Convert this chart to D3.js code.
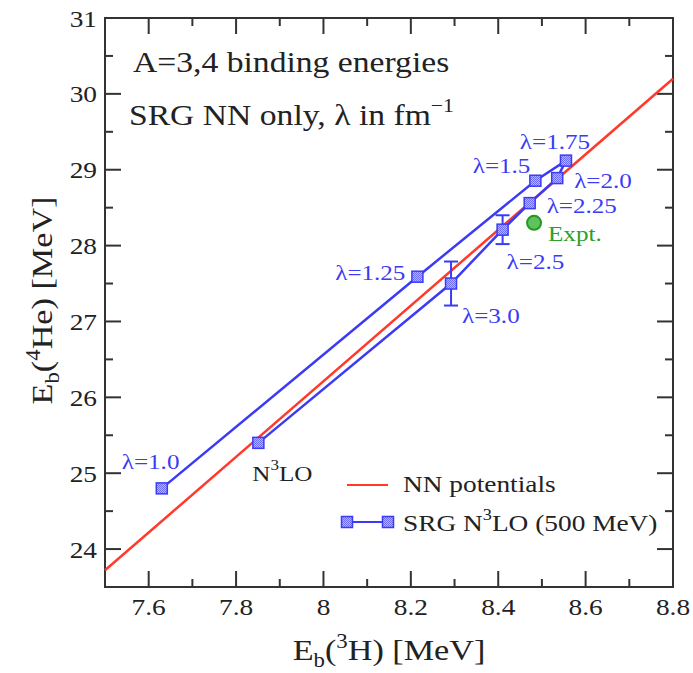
<!DOCTYPE html>
<html>
<head>
<meta charset="utf-8">
<script src="https://cdn.jsdelivr.net/npm/d3@7"></script>
<style>
  body { margin: 0; background: #fff; }
</style>
</head>
<body>
<svg id="chart"></svg>
<script>
// SRG N3LO (500 MeV) evolved potentials, in the order the line joins them
const srgLabels = ["λ=1.0", "λ=1.25", "λ=1.5", "λ=1.75", "λ=2.0", "λ=2.25", "λ=2.5", "λ=3.0", "N3LO"];
const srgH3 = [7.63, 8.215, 8.485, 8.555, 8.535, 8.472, 8.41, 8.292, 7.851];
const srgHe4 = [24.8, 27.59, 28.855, 29.12, 28.89, 28.56, 28.21, 27.5, 25.4];
const srgErr = [0, 0, 0, 0, 0, 0, 0.19, 0.29, 0];

// NN potentials (Tjon line)
const nnH3 = [7.5, 8.8];
const nnHe4 = [23.72, 30.2];

// experiment
const exptH3 = [8.482];
const exptHe4 = [28.3];

const xTicks = [7.6, 7.8, 8, 8.2, 8.4, 8.6, 8.8];
const yTicks = [24, 25, 26, 27, 28, 29, 30, 31];

const width = 693,
  height = 673,
  margin = { top: 18, right: 20, bottom: 86, left: 105 };

const svg = d3.select("#chart").attr("width", width).attr("height", height)
  .attr("font-family", "'Liberation Serif', 'DejaVu Serif', serif");

const x = d3.scaleLinear().domain([7.5, 8.8]).range([margin.left, width - margin.right]);
const y = d3.scaleLinear().domain([23.5, 31]).range([height - margin.bottom, margin.top]);

const blue = "#3b3bf5";
const red = "#ff3a2a";
const ink = "#222";
const sx = 1.14; // the original glyphs are a bit wider than Times

// text helper: stretched horizontally around its anchor point
function txt(parent, px, py, size, fill, anchor, rot) {
  return parent.append("text")
    .attr("transform", `translate(${px},${py})${rot ? " rotate(" + rot + ")" : ""} scale(${sx},1)`)
    .attr("font-size", size).attr("fill", fill)
    .attr("text-anchor", anchor || "start");
}
function sup(t, parts, supSize, shift) {
  parts.forEach((p, i) => {
    const s = t.append("tspan").text(p.text);
    if (p.sub) s.attr("font-size", supSize).attr("dy", shift * 0.6);
    if (p.sup) s.attr("font-size", supSize).attr("dy", -shift);
    if (p.back) s.attr("dy", p.back);
  });
  return t;
}

// checkered marker fill
const pat = svg.append("defs").append("pattern")
  .attr("id", "chk").attr("width", 2).attr("height", 2)
  .attr("patternUnits", "userSpaceOnUse");
pat.append("rect").attr("width", 2).attr("height", 2).attr("fill", "#b4b4ff");
pat.append("rect").attr("width", 1).attr("height", 1).attr("fill", "#6a6af5");
pat.append("rect").attr("x", 1).attr("y", 1).attr("width", 1).attr("height", 1).attr("fill", "#6a6af5");

// axes, ticks inward on all sides
const x0 = x.range()[0], x1 = x.range()[1], y0 = y.range()[0], y1 = y.range()[1];
const minorX = d3.range(7.6, 8.75, 0.1).filter((v) => Math.round(v * 10) % 2 === 1);
const minorY = d3.range(23.5, 31, 0.5).filter((v) => v % 1 !== 0);

const frame = svg.append("g").attr("stroke", "#333").attr("stroke-width", 2);
frame.append("rect").attr("x", x0).attr("y", y1).attr("width", x1 - x0).attr("height", y0 - y1).attr("fill", "none");
xTicks.filter((v) => v < 8.8).forEach((v) => {
  frame.append("line").attr("x1", x(v)).attr("x2", x(v)).attr("y1", y0).attr("y2", y0 - 16);
  frame.append("line").attr("x1", x(v)).attr("x2", x(v)).attr("y1", y1).attr("y2", y1 + 16);
});
minorX.forEach((v) => {
  frame.append("line").attr("x1", x(v)).attr("x2", x(v)).attr("y1", y0).attr("y2", y0 - 8);
  frame.append("line").attr("x1", x(v)).attr("x2", x(v)).attr("y1", y1).attr("y2", y1 + 8);
});
yTicks.filter((v) => v < 31).forEach((v) => {
  frame.append("line").attr("x1", x0).attr("x2", x0 + 16).attr("y1", y(v)).attr("y2", y(v));
  frame.append("line").attr("x1", x1).attr("x2", x1 - 16).attr("y1", y(v)).attr("y2", y(v));
});
minorY.forEach((v) => {
  frame.append("line").attr("x1", x0).attr("x2", x0 + 8).attr("y1", y(v)).attr("y2", y(v));
  frame.append("line").attr("x1", x1).attr("x2", x1 - 8).attr("y1", y(v)).attr("y2", y(v));
});

const tickG = svg.append("g");
xTicks.forEach((v) => {
  txt(tickG, x(v), y0 + 28, 24, ink, "middle").text(d3.format("~g")(v));
});
yTicks.forEach((v) => {
  txt(tickG, x0 - 8, y(v) + 8.5, 24, ink, "end").text(v);
});

// axis titles
sup(txt(svg, (x0 + x1) / 2, 660, 30, ink, "middle"),
  [{ text: "E" }, { text: "b", sub: true }, { text: "(", back: -7 }, { text: "3", sup: true }, { text: "H) [MeV]", back: 12 }], 20, 12);
sup(txt(svg, 52, (y0 + y1) / 2 - 2, 30, ink, "middle", -90),
  [{ text: "E" }, { text: "b", sub: true }, { text: "(", back: -7 }, { text: "4", sup: true }, { text: "He) [MeV]", back: 12 }], 20, 12);

// NN potentials line
svg.append("line")
  .attr("x1", x(nnH3[0])).attr("y1", y(nnHe4[0]))
  .attr("x2", x(nnH3[1])).attr("y2", y(nnHe4[1]))
  .attr("stroke", red).attr("stroke-width", 2.5);

// SRG line
const srg = srgH3.map((d, i) => ({ h3: d, he4: srgHe4[i], err: srgErr[i], label: srgLabels[i] }));
svg.append("path").datum(srg)
  .attr("d", d3.line().x((d) => x(d.h3)).y((d) => y(d.he4)))
  .attr("fill", "none").attr("stroke", blue).attr("stroke-width", 2.5);

// error bars
const eb = svg.append("g").attr("stroke", blue).attr("stroke-width", 2);
srg.filter((d) => d.err > 0).forEach((d) => {
  const cx = x(d.h3);
  eb.append("line").attr("x1", cx).attr("x2", cx).attr("y1", y(d.he4 - d.err)).attr("y2", y(d.he4 + d.err));
  [d.he4 - d.err, d.he4 + d.err].forEach((v) => {
    eb.append("line").attr("x1", cx - 7).attr("x2", cx + 7).attr("y1", y(v)).attr("y2", y(v));
  });
});

// squares
svg.append("g").selectAll("rect").data(srg).enter().append("rect")
  .attr("x", (d) => x(d.h3) - 5.5).attr("y", (d) => y(d.he4) - 5.5)
  .attr("width", 11).attr("height", 11)
  .attr("fill", "url(#chk)").attr("stroke", blue).attr("stroke-width", 1.5);

// point labels: offsets in px from the marker
const labelPos = [
  { dx: -40, dy: -19, anchor: "start" },
  { dx: -12, dy: 3, anchor: "end" },
  { dx: -5, dy: -8, anchor: "end" },
  { dx: -11, dy: -12, anchor: "middle" },
  { dx: 17, dy: 10, anchor: "start" },
  { dx: 17, dy: 10, anchor: "start" },
  { dx: 4, dy: 39, anchor: "start" },
  { dx: 11, dy: 39, anchor: "start" },
  { dx: -6, dy: 38, anchor: "start" }
];
srg.forEach((d, i) => {
  const p = labelPos[i];
  const t = txt(svg, x(d.h3) + p.dx, y(d.he4) + p.dy, 22, d.label === "N3LO" ? ink : blue, p.anchor);
  if (d.label === "N3LO") {
    sup(t, [{ text: "N" }, { text: "3", sup: true }, { text: "LO", back: 11 }], 15, 11);
  } else {
    t.text(d.label);
  }
});

// experiment
svg.append("circle")
  .attr("cx", x(exptH3[0])).attr("cy", y(exptHe4[0])).attr("r", 7)
  .attr("fill", "#5fc25f").attr("stroke", "#1e9a1e").attr("stroke-width", 2);
txt(svg, x(exptH3[0]) + 14, y(exptHe4[0]) + 18, 22, "#2aa02a").text("Expt.");

// annotations
txt(svg, 133, 72, 29.5, ink).text("A=3,4 binding energies");
sup(txt(svg, 129, 125, 29.5, ink),
  [{ text: "SRG NN only, λ in fm" }, { text: "−1", sup: true }], 19, 13);

// legend
const lg = svg.append("g");
lg.append("line").attr("x1", 347).attr("x2", 388).attr("y1", 485).attr("y2", 485)
  .attr("stroke", red).attr("stroke-width", 2);
txt(lg, 403, 492, 24, ink).text("NN potentials");
lg.append("line").attr("x1", 347).attr("x2", 388).attr("y1", 522).attr("y2", 522)
  .attr("stroke", blue).attr("stroke-width", 2);
[347, 388].forEach((cx) => {
  lg.append("rect").attr("x", cx - 5.5).attr("y", 516.5).attr("width", 11).attr("height", 11)
    .attr("fill", "url(#chk)").attr("stroke", blue).attr("stroke-width", 1.5);
});
sup(txt(lg, 403, 531, 24, ink),
  [{ text: "SRG N" }, { text: "3", sup: true }, { text: "LO (500 MeV)", back: 11 }], 16, 11);
</script>
</body>
</html>
